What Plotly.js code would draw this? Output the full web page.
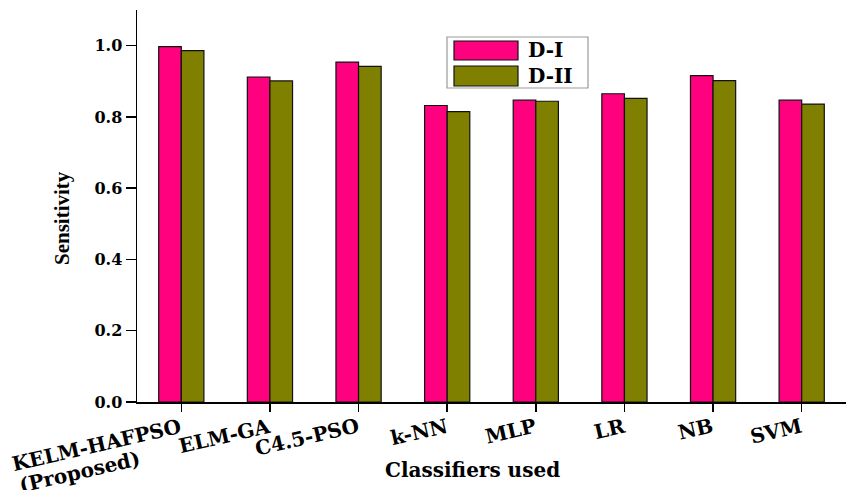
<!DOCTYPE html>
<html>
<head>
<meta charset="utf-8">
<script src="https://cdn.plot.ly/plotly-3.0.1.min.js"></script>
<style>html,body{margin:0;padding:0;background:#fff;}#chart{width:848px;height:490px;}</style>
</head>
<body>
<div id="chart"></div>
<script>
const categories = ["KELM-HAFPSO<br>(Proposed)", "ELM-GA", "C4.5-PSO", "k-NN", "MLP", "LR", "NB", "SVM"];
const seriesNames = ["D-I", "D-II"];
const dI  = [0.997, 0.912, 0.954, 0.832, 0.847, 0.865, 0.916, 0.847];
const dII = [0.986, 0.901, 0.942, 0.815, 0.844, 0.852, 0.902, 0.836];
const yTicks = [0.0, 0.2, 0.4, 0.6, 0.8, 1.0];
const colors = ["#FF007F", "#808000"];

// layout helpers (pixel -> paper)
const L = 137, R = 2, T = 10, B = 88, W = 848, H = 490;
const pw = W - L - R, ph = H - T - B;
const px = v => (v - L) / pw;
const py = v => (H - B - v) / ph;

const serif = "DejaVu Serif";
const traces = [dI, dII].map((vals, i) => ({
  type: "bar",
  x: categories,
  y: vals,
  name: seriesNames[i],
  marker: {color: colors[i], line: {color: "#111", width: 1.2}},
  showlegend: false
}));

const legendShapes = [
  {type: "rect", xref: "paper", yref: "paper", x0: px(447), x1: px(588), y0: py(88), y1: py(37),
   line: {color: "#999", width: 1.2}, fillcolor: "#fff", layer: "above"},
  {type: "rect", xref: "paper", yref: "paper", x0: px(454), x1: px(518), y0: py(60), y1: py(41),
   line: {color: "#111", width: 1.2}, fillcolor: colors[0], layer: "above"},
  {type: "rect", xref: "paper", yref: "paper", x0: px(454), x1: px(518), y0: py(86), y1: py(66),
   line: {color: "#111", width: 1.2}, fillcolor: colors[1], layer: "above"}
];

const annotations = [
  {text: seriesNames[0], xref: "paper", yref: "paper", x: px(526), y: py(50), xanchor: "left", yanchor: "middle",
   showarrow: false, font: {family: serif, size: 20, color: "#000", weight: "bold"}},
  {text: seriesNames[1], xref: "paper", yref: "paper", x: px(526), y: py(76), xanchor: "left", yanchor: "middle",
   showarrow: false, font: {family: serif, size: 20, color: "#000", weight: "bold"}},
  {text: "Sensitivity", xref: "paper", yref: "paper", x: px(62), y: py(218), textangle: -90,
   xanchor: "center", yanchor: "middle", showarrow: false,
   font: {family: "Liberation Serif", size: 21, color: "#000", weight: "bold"}},
  {text: "Classifiers used", xref: "paper", yref: "paper", x: px(472), y: py(470),
   xanchor: "center", yanchor: "middle", showarrow: false,
   font: {family: serif, size: 20, color: "#000", weight: "bold"}}
];

// rotated category labels, one annotation per text line, right end at the tick
const labelAngle = -13, labelSize = 20;
categories.forEach(cat => {
  cat.split("<br>").forEach((line, k) => {
    annotations.push({
      text: line, xref: "x", yref: "paper", x: cat, y: 0,
      xanchor: "right", yanchor: "top", textangle: labelAngle, showarrow: false,
      xshift: 5 - 42 * k, yshift: -9 - 33 * k,
      font: {family: serif, size: labelSize, color: "#000", weight: "bold"}
    });
  });
});

const layout = {
  width: W, height: H,
  margin: {l: L, r: R, t: T, b: B, pad: 0},
  paper_bgcolor: "#fff", plot_bgcolor: "#fff",
  barmode: "group", bargap: 0.49, bargroupgap: 0,
  xaxis: {
    type: "category", range: [-0.5, 7.5],
    showline: true, linecolor: "#000", linewidth: 1.5,
    ticks: "outside", ticklen: 8, tickwidth: 1.5, tickcolor: "#000",
    showticklabels: false, showgrid: false, zeroline: false
  },
  yaxis: {
    range: [0, 1.1], tickvals: yTicks, ticktext: yTicks.map(v => v.toFixed(1)),
    showline: true, linecolor: "#000", linewidth: 1.5,
    ticks: "outside", ticklen: 10, tickwidth: 1.5, tickcolor: "#000",
    showgrid: false, zeroline: false,
    tickfont: {family: serif, size: 16, color: "#000", weight: "bold"}
  },
  shapes: legendShapes,
  annotations: annotations
};

Plotly.newPlot("chart", traces, layout, {staticPlot: true, displayModeBar: false});
</script>
</body>
</html>
